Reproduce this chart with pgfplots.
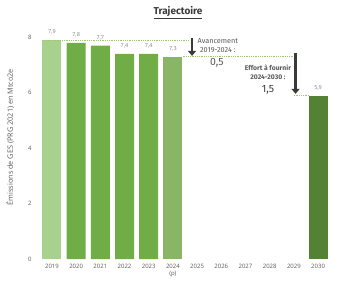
\documentclass[border=0pt]{standalone}
\usepackage{fontspec}
\setmainfont{Open Sans}
\newfontfamily\din{Fira Sans}
\usepackage{pgfplots}
\pgfplotsset{compat=1.18}
\usetikzlibrary{arrows.meta}
\definecolor{gLight}{HTML}{A9D18E}
\definecolor{gMid}{HTML}{70AD47}
\definecolor{gP}{HTML}{88B566}
\definecolor{gDark}{HTML}{548235}
\definecolor{gDot}{HTML}{9BCB6E}
\definecolor{txt}{HTML}{595959}
\definecolor{arr}{HTML}{3A3A3A}
\begin{document}
\begin{tikzpicture}[x=1pt,y=1pt]
\path[use as bounding box] (0,0) rectangle (356,287);
\begin{axis}[
  at={(35pt,28pt)}, anchor=south west,
  scale only axis, width=300pt, height=230pt,
  xmin=2018.3, xmax=2030.7, ymin=0, ymax=8.3,
  axis line style={draw=none}, tick style={draw=none},
  ytick={0,2,4,6,8},
  xtick={2019,2020,2021,2022,2023,2024,2025,2026,2027,2028,2029,2030},
  xticklabels={2019,2020,2021,2022,2023,{2024\\(p)},2025,2026,2027,2028,2029,2030},
  xticklabel style={align=center, font=\fontsize{6}{6.5}\selectfont, text=txt, yshift=-2pt},
  yticklabel style={font=\fontsize{6}{6.5}\selectfont, text=txt},
  /pgf/number format/assume math mode=true,
  every axis y label/.style={at={(axis description cs:-0.083,0.53)}, rotate=90, anchor=center, font=\fontsize{7.3}{8}\selectfont, text=txt},
  ylabel={Émissions de GES (PRG 2021) en Mtco2e},
  clip=false,
  barstyle/.style={ybar, bar width=19pt, bar shift=0pt, draw=none,
    nodes near coords, every node near coord/.append style={font=\fontsize{5.5}{6}\selectfont, text=gray, yshift=2pt,
    /pgf/number format/fixed, /pgf/number format/precision=1, /pgf/number format/fixed zerofill, /pgf/number format/use comma}},
]
\addplot[barstyle, fill=gLight] coordinates {(2019,7.9)};
\addplot[barstyle, fill=gMid] coordinates {(2020,7.8) (2021,7.7) (2022,7.4) (2023,7.4)};
\addplot[barstyle, fill=gP] coordinates {(2024,7.3)};
\addplot[barstyle, fill=gDark] coordinates {(2030,5.9)};
\addplot[gDot, densely dotted, line width=0.8pt] coordinates {(2018.6,7.9) (2024.7,7.9)};
\addplot[gDot, densely dotted, line width=0.8pt] coordinates {(2024.4,7.3) (2029.0,7.3)};
\addplot[gDot, densely dotted, line width=0.8pt] coordinates {(2029.0,5.9) (2029.6,5.9)};
\draw[arr, line width=2.6pt, -{Triangle[length=5pt,width=8pt]}] (axis cs:2024.79,7.96) -- (axis cs:2024.79,7.33);
\draw[arr, line width=2.6pt, -{Triangle[length=5pt,width=8pt]}] (axis cs:2029.07,7.45) -- (axis cs:2029.07,5.96);
\node[font=\din\fontsize{7.3}{9}\selectfont, text=txt, align=center] at (axis cs:2025.86,7.70) {Avancement\\2019-2024 :};
\node[font=\din\fontsize{10.5}{11}\selectfont, text=txt] at (axis cs:2025.82,7.08) {0,5};
\node[font=\din\bfseries\fontsize{6.8}{9}\selectfont, text=txt, align=center] at (axis cs:2027.93,6.74) {Effort à fournir\\2024-2030 :};
\node[font=\din\fontsize{10.5}{11}\selectfont, text=arr] at (axis cs:2027.93,6.11) {1,5};
\end{axis}
\node[font=\din\bfseries\fontsize{10}{11}\selectfont, text=arr] at (178,274) {\underline{Trajectoire}};
\end{tikzpicture}
\end{document}
